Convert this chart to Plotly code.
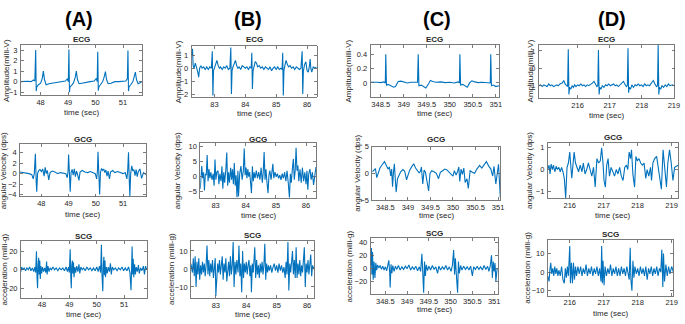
import plotly.graph_objects as go

W, H = 685, 324

# ---------------- data: (time [s], value) ----------------
A_ECG = [(47.28, 0.0), (47.40, 0.05), (47.52, 0.03), (47.65, 0.0), (47.74, 0.15), (47.79, 0.05), (47.82, 3.0),
         (47.84, -0.9), (47.86, -0.5), (47.92, -0.3), (48.00, -0.15), (48.06, 0.3), (48.10, 1.0), (48.14, 0.2),
         (48.20, -0.3), (48.30, -0.2), (48.45, -0.15), (48.60, -0.05), (48.75, 0.0), (48.90, 0.05), (48.97, 0.25),
         (49.01, 0.0), (49.03, 3.05), (49.05, -1.0), (49.07, -0.5), (49.13, -0.35), (49.20, -0.1), (49.26, 0.4),
         (49.30, 1.0), (49.34, 0.2), (49.40, -0.2), (49.50, -0.15), (49.65, -0.05), (49.80, 0.0), (49.95, 0.05),
         (50.03, 0.3), (50.06, 0.0), (50.08, 2.85), (50.10, -0.85), (50.12, -0.5), (50.18, -0.3), (50.26, 0.0),
         (50.32, 0.5), (50.36, 0.95), (50.40, 0.2), (50.46, -0.2), (50.56, -0.15), (50.70, 0.0), (50.85, 0.0),
         (51.00, 0.05), (51.10, 0.05), (51.16, 0.3), (51.18, 2.95), (51.20, -0.9), (51.22, -0.5), (51.28, -0.3),
         (51.36, 0.0), (51.41, 0.5), (51.45, 0.9), (51.49, 0.2), (51.55, -0.2), (51.62, -0.1), (51.69, 0.0)]

A_GCG = [(47.21, 0.3), (47.35, 0.2), (47.45, 0.1), (47.55, 0.0), (47.65, -0.2), (47.70, -1.0), (47.74, 0.0),
         (47.78, 3.8), (47.81, -1.5), (47.83, -3.5), (47.86, 0.0), (47.90, 0.6), (47.95, 0.8), (48.00, 0.4),
         (48.05, 0.9), (48.10, -0.5), (48.14, 1.2), (48.18, 0.0), (48.22, 0.6), (48.27, -1.2), (48.32, 0.2),
         (48.40, 0.5), (48.50, 0.3), (48.60, 0.0), (48.70, 0.2), (48.80, 0.1), (48.90, 0.0), (48.95, -0.8),
         (48.98, 0.5), (49.00, 3.7), (49.03, -1.0), (49.06, -3.5), (49.09, 0.2), (49.13, 0.8), (49.17, -0.3),
         (49.21, 0.9), (49.25, -0.6), (49.29, 0.5), (49.33, -0.2), (49.38, -1.3), (49.42, 0.3), (49.50, 0.6),
         (49.60, 0.3), (49.70, 0.2), (49.80, 0.4), (49.90, 0.1), (49.98, 0.0), (50.03, -1.0), (50.06, 0.5),
         (50.08, 4.2), (50.11, -1.0), (50.14, -4.0), (50.17, 0.2), (50.21, 1.0), (50.25, 0.6), (50.29, 0.9),
         (50.33, 0.2), (50.37, 0.7), (50.41, -0.5), (50.45, 0.5), (50.50, -1.0), (50.54, 0.3), (50.62, 0.6),
         (50.70, 0.2), (50.80, 0.4), (50.90, 0.2), (51.00, 0.0), (51.08, 0.2), (51.14, -1.0), (51.17, 0.5),
         (51.20, 4.1), (51.23, -1.5), (51.25, -4.3), (51.28, 0.0), (51.32, 1.5), (51.36, 0.5), (51.40, 0.8),
         (51.44, -0.4), (51.48, 0.8), (51.52, -0.6), (51.56, 0.4), (51.62, 0.9), (51.68, -0.9), (51.75, 0.2),
         (51.84, -0.2)]

A_SCG = [(47.23, -2), (47.26, 3), (47.30, 0), (47.35, 2), (47.40, -1), (47.45, 2), (47.50, 0), (47.55, 3),
         (47.60, -1), (47.65, 2), (47.70, -2), (47.74, 3), (47.77, -3), (47.80, 20), (47.82, -8), (47.84, -20),
         (47.86, 5), (47.88, 13), (47.90, -5), (47.92, 10), (47.94, -10), (47.96, 4), (47.99, -4), (48.02, 3),
         (48.06, -2), (48.10, 2), (48.14, -3), (48.17, 9), (48.19, -5), (48.22, 4), (48.26, -2), (48.30, 2),
         (48.35, 0), (48.40, 3), (48.46, 0), (48.52, 2), (48.58, -1), (48.64, 2), (48.70, 0), (48.76, 2),
         (48.82, -1), (48.88, 3), (48.93, -2), (48.97, 3), (49.00, -3), (49.03, 22), (49.05, -5), (49.07, -20),
         (49.09, 5), (49.11, 10), (49.13, -4), (49.15, 8), (49.17, -8), (49.20, 3), (49.23, -3), (49.27, 4),
         (49.31, -2), (49.35, 6), (49.38, -4), (49.42, 3), (49.47, 0), (49.52, 2), (49.58, -1), (49.64, 3),
         (49.70, 0), (49.76, 2), (49.82, -1), (49.88, 2), (49.94, -1), (50.00, 3), (50.05, -2), (50.10, 4),
         (50.14, -3), (50.17, 27), (50.19, -5), (50.22, -23), (50.24, 5), (50.26, 14), (50.28, -6), (50.30, 10),
         (50.32, -8), (50.35, 3), (50.38, -4), (50.42, 3), (50.46, -2), (50.50, 7), (50.53, -5), (50.57, 3),
         (50.62, 0), (50.68, 2), (50.74, -1), (50.80, 2), (50.86, 0), (50.92, 3), (50.98, -1), (51.04, 2),
         (51.10, -1), (51.16, 3), (51.21, -3), (51.25, -22), (51.27, 0), (51.29, 25), (51.31, -5), (51.33, 12),
         (51.35, -8), (51.38, 6), (51.41, -5), (51.44, 3), (51.48, -2), (51.52, 5), (51.55, -4), (51.60, 2),
         (51.65, -1), (51.70, 4), (51.74, -5), (51.78, 4), (51.83, 0)]

B_ECG = [(82.26, 1.0), (82.29, 1.5), (82.31, 0.2), (82.34, 0.0), (82.38, 0.4), (82.42, 0.1), (82.46, -0.3),
         (82.49, -0.7), (82.52, 0.0), (82.56, 0.2), (82.60, 0.0), (82.65, 0.1), (82.70, -0.1), (82.75, 0.1),
         (82.80, -0.1), (82.85, 0.1), (82.90, 0.0), (82.93, 1.3), (82.95, -2.1), (82.97, -0.2), (83.00, 0.0),
         (83.04, 0.3), (83.08, 0.6), (83.12, 0.2), (83.16, 0.0), (83.20, 0.1), (83.25, -0.1), (83.30, 0.1),
         (83.35, 0.0), (83.40, 0.2), (83.45, -0.1), (83.50, 0.0), (83.53, 1.6), (83.55, -2.0), (83.57, -0.2),
         (83.60, 0.1), (83.64, 0.4), (83.68, 0.6), (83.72, 0.2), (83.76, 0.0), (83.80, 0.1), (83.85, -0.1),
         (83.90, 0.2), (83.95, 0.1), (84.00, 0.0), (84.05, 0.1), (84.10, -0.1), (84.15, 0.1), (84.19, 0.0),
         (84.21, 1.2), (84.23, -1.6), (84.25, -0.2), (84.28, 0.1), (84.32, 0.5), (84.36, 0.4), (84.40, 0.1),
         (84.45, 0.2), (84.50, 0.0), (84.55, 0.1), (84.60, -0.1), (84.65, 0.1), (84.70, 0.0), (84.75, -0.1),
         (84.80, 0.1), (84.85, -0.2), (84.90, 0.0), (84.95, 0.1), (85.00, -0.1), (85.05, 0.1), (85.10, -0.1),
         (85.15, 0.0), (85.19, -0.1), (85.21, 1.2), (85.23, -2.1), (85.25, -0.2), (85.28, 0.2), (85.32, 0.6),
         (85.36, 0.3), (85.40, 0.1), (85.45, 0.2), (85.50, 0.0), (85.55, 0.1), (85.60, -0.1), (85.65, 0.1),
         (85.70, 0.0), (85.75, -0.1), (85.80, 0.0), (85.84, 1.3), (85.86, -2.0), (85.88, -0.2), (85.92, 0.3),
         (85.96, 0.5), (86.00, -0.2), (86.04, -0.3), (86.07, 0.1), (86.10, 0.7), (86.12, 0.0), (86.15, -0.3),
         (86.20, 0.1), (86.25, 0.0), (86.31, 0.1)]

B_GCG = [(82.49, -4.0), (82.51, 1.0), (82.54, 3.5), (82.57, -0.5), (82.60, 1.5), (82.63, -4.5), (82.66, 1.0),
         (82.69, 0.5), (82.72, 7.2), (82.75, -1.5), (82.78, 2.5), (82.81, -0.5), (82.84, 1.5), (82.88, -1.0),
         (82.92, 1.0), (82.95, -3.0), (82.98, 5.7), (83.01, -1.0), (83.04, 1.5), (83.08, 2.0), (83.11, -2.5),
         (83.14, 1.0), (83.18, -1.5), (83.21, 3.5), (83.24, -4.0), (83.27, 1.5), (83.30, -2.0), (83.34, 2.5),
         (83.37, 8.0), (83.40, -3.0), (83.43, 1.5), (83.46, -2.0), (83.50, 3.0), (83.53, -1.0), (83.56, 2.5),
         (83.59, -2.5), (83.62, 4.5), (83.65, -3.0), (83.68, 0.5), (83.71, -6.8), (83.74, 2.0), (83.76, -6.5),
         (83.80, 1.0), (83.84, 3.5), (83.88, -1.0), (83.92, 2.0), (83.95, 9.3), (83.98, 0.5), (84.01, 3.0),
         (84.04, -0.5), (84.07, 2.5), (84.10, 0.0), (84.13, 1.5), (84.16, -2.0), (84.19, -5.4), (84.22, 3.5),
         (84.25, -1.5), (84.28, 1.5), (84.31, -0.5), (84.35, 2.0), (84.39, -0.5), (84.43, 1.5), (84.47, -1.0),
         (84.51, 3.0), (84.55, -2.0), (84.58, 1.5), (84.61, 8.2), (84.64, -1.0), (84.67, 2.5), (84.71, -2.5),
         (84.74, -5.4), (84.77, 0.5), (84.80, 2.0), (84.84, -1.0), (84.87, 1.5), (84.90, 4.3), (84.93, -0.5),
         (84.97, 1.5), (85.01, 0.0), (85.05, 1.0), (85.09, -0.5), (85.13, 0.5), (85.17, -1.0), (85.21, 1.0),
         (85.25, -0.5), (85.29, 1.5), (85.33, -1.5), (85.37, 2.0), (85.41, -2.0), (85.45, -6.9), (85.48, 1.0),
         (85.51, -2.0), (85.55, 3.0), (85.58, 5.9), (85.61, -1.0), (85.64, 2.0), (85.67, 9.6), (85.70, 2.0),
         (85.73, 3.7), (85.76, -1.5), (85.80, 2.5), (85.84, -2.0), (85.88, 3.0), (85.92, -1.5), (85.96, 1.5),
         (86.00, -2.5), (86.03, 2.0), (86.06, -4.3), (86.09, 1.0), (86.13, 2.5), (86.17, -1.0), (86.21, 1.5),
         (86.25, -2.7), (86.29, 0.5), (86.33, 3.2)]

B_SCG = [(82.18, 3), (82.23, -2), (82.26, 6), (82.29, -4), (82.32, 7), (82.35, -10), (82.38, 4), (82.41, -3),
         (82.44, 6), (82.47, -6), (82.50, 2), (82.53, -3), (82.56, 4), (82.59, -2), (82.62, 3), (82.65, -4),
         (82.68, 2), (82.71, 13), (82.74, -3), (82.77, 5), (82.80, -4), (82.83, 3), (82.86, -2), (82.89, 5),
         (82.92, -5), (82.95, 2), (82.98, 6), (83.00, -15), (83.03, -4), (83.06, 3), (83.09, -2), (83.12, 5),
         (83.15, -3), (83.18, 2), (83.21, 7), (83.24, -6), (83.27, 3), (83.30, -2), (83.33, 6), (83.36, -7),
         (83.39, 2), (83.42, 4), (83.45, -4), (83.48, 7), (83.51, -3), (83.54, 2), (83.57, 15), (83.60, -10),
         (83.63, 4), (83.66, -3), (83.69, 5), (83.73, -2), (83.76, 13), (83.79, -4), (83.82, 3), (83.85, -13),
         (83.88, 10), (83.91, -5), (83.94, 3), (83.97, -2), (84.00, 4), (84.03, -3), (84.06, 2), (84.09, 5),
         (84.12, -4), (84.15, 2), (84.17, -13), (84.20, 3), (84.23, -2), (84.26, 5), (84.28, 12), (84.31, -5),
         (84.34, 5), (84.37, -3), (84.40, 2), (84.43, -5), (84.46, 3), (84.49, -2), (84.52, 4), (84.55, -3),
         (84.58, 2), (84.61, 14), (84.64, -6), (84.67, 3), (84.70, -2), (84.73, 2), (84.76, -1), (84.80, 2),
         (84.84, -2), (84.88, 1), (84.92, 3), (84.96, -1), (85.00, 2), (85.04, -2), (85.08, 3), (85.12, -1),
         (85.16, 2), (85.20, -2), (85.24, 1), (85.28, -5), (85.31, 4), (85.34, -3), (85.37, 15), (85.40, -12),
         (85.43, 3), (85.46, -2), (85.49, 4), (85.52, 10), (85.55, -3), (85.58, 5), (85.61, -5), (85.64, 12),
         (85.67, -5), (85.70, 3), (85.73, -3), (85.76, 5), (85.79, -4), (85.82, 2), (85.85, -2), (85.88, 4),
         (85.91, 12), (85.94, -10), (85.97, 3), (86.00, -2), (86.03, 5), (86.06, -3), (86.09, 4), (86.12, 8),
         (86.15, -4), (86.18, 2), (86.21, 0), (86.24, 1)]

C_ECG = [(348.28, 0.01), (348.35, 0.015), (348.42, 0.01), (348.50, 0.005), (348.57, 0.015), (348.60, 0.0),
         (348.61, 0.40), (348.625, -0.03), (348.66, -0.02), (348.72, -0.04), (348.78, -0.06), (348.82, -0.05),
         (348.88, 0.02), (348.94, 0.025), (349.00, 0.01), (349.08, 0.0), (349.16, 0.01), (349.24, 0.005),
         (349.30, 0.01), (349.315, 0.40), (349.33, -0.04), (349.38, -0.03), (349.44, -0.06), (349.48, -0.07),
         (349.54, -0.01), (349.58, 0.035), (349.63, 0.02), (349.70, 0.01), (349.80, 0.015), (349.90, 0.005),
         (350.00, 0.01), (350.10, 0.0), (350.18, 0.015), (350.21, 0.0), (350.22, 0.40), (350.235, -0.03),
         (350.28, -0.02), (350.34, -0.05), (350.38, -0.06), (350.43, 0.0), (350.48, 0.03), (350.54, 0.015),
         (350.62, 0.005), (350.70, 0.01), (350.78, 0.005), (350.86, 0.01), (350.88, 0.0), (350.89, 0.40),
         (350.905, -0.04), (350.95, -0.03), (351.00, -0.05), (351.07, -0.04)]

C_GCG = [(348.21, 0.3), (348.25, 0.6), (348.28, 0.9), (348.31, -0.8), (348.34, 0.2), (348.38, 1.0),
         (348.43, 1.6), (348.48, 2.2), (348.52, 1.5), (348.56, 0.8), (348.59, 1.2), (348.62, -0.5),
         (348.64, 0.8), (348.66, -2.5), (348.68, 0.2), (348.70, 1.8), (348.72, -1.0), (348.74, -3.5),
         (348.77, -1.0), (348.80, -0.5), (348.84, 0.3), (348.89, 0.7), (348.93, 0.4), (348.97, -1.2),
         (349.00, -0.2), (349.04, 0.6), (349.09, 1.3), (349.13, 1.8), (349.17, 1.0), (349.21, 0.5),
         (349.25, 0.1), (349.28, 0.4), (349.30, 1.2), (349.33, -2.0), (349.36, 0.6), (349.39, 0.2),
         (349.42, -1.5), (349.46, -3.3), (349.49, 0.0), (349.53, 0.5), (349.58, 0.3), (349.63, 0.0),
         (349.68, -1.0), (349.72, 0.2), (349.77, 0.5), (349.82, 0.8), (349.86, 0.7), (349.91, 0.3),
         (349.96, 0.0), (350.00, -0.5), (350.03, 0.5), (350.07, -0.3), (350.10, 0.3), (350.13, 1.2),
         (350.15, -1.5), (350.18, 0.8), (350.21, -0.2), (350.24, 1.0), (350.27, -1.7), (350.31, -1.0),
         (350.34, -2.8), (350.38, 0.5), (350.43, 0.2), (350.48, 0.0), (350.53, 0.8), (350.59, 1.5),
         (350.64, 1.0), (350.69, 1.6), (350.74, 2.2), (350.79, 1.4), (350.84, 0.8), (350.88, -0.5),
         (350.91, 1.3), (350.95, -2.0), (350.98, 0.5), (351.01, 1.7), (351.05, -4.5)]

C_SCG = [(348.16, 5), (348.18, 31), (348.19, -10), (348.205, 25), (348.22, -18), (348.24, 10), (348.26, -15),
         (348.28, 8), (348.30, -3), (348.32, 5), (348.35, 0), (348.38, 4), (348.41, -2), (348.44, 3),
         (348.47, -3), (348.50, 2), (348.53, -4), (348.56, 5), (348.58, 12), (348.60, -8), (348.61, -30),
         (348.63, 6), (348.65, -8), (348.67, 4), (348.70, -5), (348.73, 3), (348.76, -2), (348.80, 4),
         (348.84, -3), (348.88, 2), (348.92, -2), (348.96, 3), (349.00, -1), (349.04, 5), (349.08, -3),
         (349.12, 2), (349.16, -2), (349.20, 3), (349.24, -4), (349.28, 2), (349.31, -5), (349.34, 22),
         (349.36, -10), (349.38, -38), (349.40, 10), (349.42, -12), (349.44, 5), (349.47, -4), (349.50, 3),
         (349.54, -3), (349.58, 4), (349.62, -2), (349.66, 2), (349.70, -8), (349.73, 3), (349.77, -3),
         (349.81, 2), (349.85, -2), (349.89, 4), (349.93, -3), (349.97, 2), (350.01, -5), (350.04, 4),
         (350.07, 28), (350.09, -10), (350.11, 15), (350.13, -8), (350.16, -38), (350.18, 10), (350.20, -8),
         (350.23, 4), (350.26, -3), (350.30, 3), (350.34, -2), (350.38, 2), (350.42, -3), (350.46, 3),
         (350.50, -12), (350.53, 2), (350.57, -2), (350.61, 3), (350.65, -2), (350.69, 2), (350.73, -3),
         (350.77, 4), (350.81, -2), (350.85, 3), (350.88, -5), (350.91, 3), (350.94, 20), (350.96, -15),
         (350.98, 10), (351.00, -5), (351.02, 8), (351.04, -20), (351.07, 0)]

D_ECG = [(214.79, -1.0), (214.85, -0.95), (214.90, -1.05), (214.95, -0.95), (215.00, -1.0), (215.05, -1.05),
         (215.10, -0.9), (215.15, -1.0), (215.20, -0.95), (215.25, -1.05), (215.30, -1.0), (215.35, -0.95),
         (215.40, -1.0), (215.45, -0.9), (215.52, -0.85), (215.57, -0.7), (215.61, -0.9), (215.65, -1.0),
         (215.69, -1.05), (215.71, 1.1), (215.73, -1.5), (215.75, -1.1), (215.79, -1.2), (215.83, -1.0),
         (215.87, -1.1), (215.91, -0.95), (215.95, -1.05), (216.00, -0.95), (216.05, -1.0), (216.10, -0.9),
         (216.15, -1.0), (216.20, -0.95), (216.25, -1.05), (216.30, -0.95), (216.35, -1.0), (216.40, -0.95),
         (216.46, -0.85), (216.51, -0.75), (216.55, -0.9), (216.60, -1.05), (216.63, -1.0), (216.65, 1.05),
         (216.67, -1.5), (216.69, -1.1), (216.73, -1.2), (216.77, -1.0), (216.82, -1.1), (216.87, -0.95),
         (216.92, -1.0), (216.97, -0.9), (217.02, -1.0), (217.07, -0.95), (217.12, -0.9), (217.17, -1.0),
         (217.22, -0.95), (217.27, -1.05), (217.32, -0.95), (217.38, -0.85), (217.43, -0.75), (217.47, -0.9),
         (217.52, -1.05), (217.55, -1.0), (217.57, 1.15), (217.59, -1.4), (217.61, -1.1), (217.65, -1.2),
         (217.69, -0.95), (217.74, -1.1), (217.79, -0.95), (217.84, -1.0), (217.89, -0.9), (217.94, -1.0),
         (217.99, -0.95), (218.04, -1.05), (218.09, -0.9), (218.14, -1.0), (218.19, -0.95), (218.24, -1.0),
         (218.30, -0.85), (218.36, -0.7), (218.41, -0.9), (218.46, -1.05), (218.49, -1.0), (218.51, 1.35),
         (218.53, -1.5), (218.55, -1.1), (218.59, -1.2), (218.63, -1.0), (218.68, -1.1), (218.73, -0.95),
         (218.78, -1.05), (218.83, -0.9), (218.88, -1.0), (218.95, -0.95), (219.0, -1.0)]

D_GCG = [(215.35, 0.0), (215.39, 0.2), (215.42, -0.2), (215.45, 0.25), (215.49, 0.0), (215.52, 0.2),
         (215.56, -0.1), (215.60, 0.15), (215.64, 0.0), (215.68, 0.1), (215.72, -0.1), (215.76, 0.1),
         (215.80, -0.1), (215.84, -0.4), (215.88, -1.3), (215.92, 0.1), (215.96, 0.3), (216.00, 0.8),
         (216.03, 0.2), (216.06, -0.4), (216.10, 0.3), (216.13, 0.8), (216.17, 0.3), (216.21, 0.1),
         (216.26, -0.1), (216.31, 0.2), (216.36, -0.1), (216.40, 0.3), (216.45, -0.2), (216.50, 0.0),
         (216.55, 0.3), (216.60, 0.0), (216.65, -0.3), (216.70, 0.1), (216.75, -0.8), (216.80, 0.5),
         (216.85, 0.3), (216.90, 0.4), (216.94, 1.0), (216.98, 0.3), (217.01, -0.5), (217.05, -0.8),
         (217.09, 0.2), (217.13, 0.5), (217.17, -0.3), (217.22, 0.1), (217.27, -0.1), (217.32, -0.3),
         (217.37, 0.0), (217.42, -0.2), (217.47, 0.1), (217.52, -0.3), (217.57, -0.5), (217.62, 0.1),
         (217.67, 0.2), (217.71, 0.0), (217.75, 0.8), (217.79, 0.5), (217.82, 0.9), (217.86, -0.2),
         (217.91, -0.8), (217.95, 0.6), (217.99, 0.4), (218.04, 0.5), (218.09, 0.3), (218.14, 0.2),
         (218.19, 0.3), (218.24, -0.4), (218.28, 0.0), (218.33, -0.3), (218.38, 0.1), (218.41, -0.5),
         (218.45, 0.3), (218.50, 0.5), (218.56, 0.6), (218.60, 0.2), (218.64, -0.2), (218.70, -0.9),
         (218.75, 0.9), (218.80, 0.2), (218.85, -0.8), (218.89, 0.3), (218.94, 0.9), (218.99, 0.3),
         (219.04, -0.5), (219.09, 0.1), (219.19, 0.2)]

D_SCG = [(215.35, -2), (215.39, -5), (215.42, 2), (215.44, 5), (215.47, -1), (215.50, 2), (215.53, -2),
         (215.56, 3), (215.59, -1), (215.62, 2), (215.65, -2), (215.68, 1), (215.72, -2), (215.76, 3),
         (215.80, -4), (215.84, -6), (215.87, 2), (215.90, -3), (215.93, 3), (215.96, -2), (216.00, 14),
         (216.02, -6), (216.05, 5), (216.08, -6), (216.11, 5), (216.14, -4), (216.17, 3), (216.20, -2),
         (216.24, 3), (216.28, -1), (216.32, 3), (216.36, -2), (216.40, 2), (216.44, -1), (216.48, 4),
         (216.52, -2), (216.56, 2), (216.60, -1), (216.64, 3), (216.68, -2), (216.72, 2), (216.76, -1),
         (216.80, 3), (216.84, -2), (216.88, 2), (216.92, -5), (216.94, 14), (216.96, -6), (216.98, 6),
         (217.01, -7), (217.04, 3), (217.08, -2), (217.12, 2), (217.16, -1), (217.20, 4), (217.24, -2),
         (217.28, 2), (217.32, -1), (217.36, 3), (217.40, -2), (217.44, 2), (217.48, -2), (217.52, 3),
         (217.56, -1), (217.60, 2), (217.64, -2), (217.68, 3), (217.72, -2), (217.75, -4), (217.78, 13),
         (217.80, -4), (217.83, -10), (217.86, 6), (217.89, -3), (217.92, 3), (217.96, -1), (218.00, 2),
         (218.04, -2), (218.08, 3), (218.12, -1), (218.16, 2), (218.20, -2), (218.24, 3), (218.28, -4),
         (218.32, 2), (218.36, -1), (218.40, 3), (218.44, -2), (218.48, 2), (218.52, -1), (218.56, 3),
         (218.60, -2), (218.64, 2), (218.68, 0), (218.71, 12), (218.74, -8), (218.76, 10), (218.79, -5),
         (218.83, 4), (218.87, -2), (218.91, 3), (218.95, -1), (219.00, 3), (219.05, 0)]

# ---------------- tick values ----------------
A_XTICKS = [48, 49, 50, 51]
B_XTICKS = [83, 84, 85, 86]
C_XTICKS = [348.5, 349, 349.5, 350, 350.5, 351]
D_XTICKS = [216, 217, 218, 219]

A_ECG_YT = [-1, 0, 1, 2, 3]
A_GCG_YT = [-4, -2, 0, 2, 4]
A_SCG_YT = [-20, 0, 20]
B_ECG_YT = [-2, -1, 0, 1]
B_GCG_YT = [-5, 0, 5, 10]
B_SCG_YT = [-10, 0, 10]
C_ECG_YT = [0, 0.2, 0.4]
C_GCG_YT = [-5, 0, 5]
C_SCG_YT = [-20, 0, 20, 40]
D_ECG_YT = [-1, 0, 1]
D_GCG_YT = [-1, 0, 1]
D_SCG_YT = [-10, 0, 10]

COLUMN_LABELS = ["(A)", "(B)", "(C)", "(D)"]
ROW_TITLES = ["ECG", "GCG", "SCG"]
Y_TITLES = ["Amplitude(milli-V)", "angular Velocity (dps)", "acceleration (milli-g)"]
X_TITLE = "time (sec)"

# ---------------- layout (pixel boxes) ----------------
# data, row, x-box px, y-box px, x range, y range, xticks, yticks, ytitle x px, title y px, xtitle y px
PANELS = [
    (A_ECG, 0, (21, 143), (42, 94), (47.28, 51.69), (-1.31, 3.5), A_XTICKS, A_ECG_YT, 6, 37, 112),
    (A_GCG, 1, (20, 147), (144, 198), (47.21, 51.84), (-4.4, 5.7), A_XTICKS, A_GCG_YT, 3, 139, 217),
    (A_SCG, 2, (21, 148), (244, 302), (47.23, 51.83), (-30, 30.8), A_XTICKS, A_SCG_YT, 4, 239, 319),
    (B_ECG, 0, (193, 319), (43, 96), (82.26, 86.31), (-2.25, 1.73), B_XTICKS, B_ECG_YT, 180, 36, 113),
    (B_GCG, 1, (201.7, 318.3), (143.3, 199.3), (82.49, 86.33), (-6.95, 11.05), B_XTICKS, B_GCG_YT, 179, 139, 218),
    (B_SCG, 2, (192.3, 316.7), (243.3, 302.3), (82.18, 86.24), (-16.1, 15.8), B_XTICKS, B_SCG_YT, 172, 238, 319),
    (C_ECG, 0, (373.3, 502.7), (42, 96), (348.28, 351.07), (-0.2, 0.53), C_XTICKS, C_ECG_YT, 351, 36, 113),
    (C_GCG, 1, (375, 504), (146.7, 201.7), (348.21, 351.05), (-5, 5), C_XTICKS, C_GCG_YT, 360, 139, 218),
    (C_SCG, 2, (373.3, 501.7), (241, 298), (348.16, 351.09), (-39.5, 46), C_XTICKS, C_SCG_YT, 352, 236, 314),
    (D_ECG, 0, (542.7, 679.5), (41.7, 96.7), (214.79, 219.02), (-1.71, 1.37), D_XTICKS, D_ECG_YT, 534, 36, 115),
    (D_GCG, 1, (551.7, 683), (143.3, 200), (215.35, 219.19), (-1.32, 1.2), D_XTICKS, D_GCG_YT, 534, 137, 218),
    (D_SCG, 2, (551.7, 678.3), (242.3, 300), (215.35, 219.05), (-12.6, 17.4), D_XTICKS, D_SCG_YT, 532, 237, 318),
]
COLUMN_LABEL_X = [80, 250, 440, 617]

FONT = "Liberation Sans, Arial, Helvetica, sans-serif"
TXT = "#262626"
AX = "#5a5a5a"
LINE = "#0072BD"

fig = go.Figure()
annotations = []
layout = {}


def px2fx(px):
    return px / W


def py2fy(py):
    return 1 - py / H


for i, (data, row, xb, yb, xr, yr, xt, yt, ytx, tty, xty) in enumerate(PANELS, start=1):
    sfx = "" if i == 1 else str(i)
    t = [p[0] for p in data]
    v = [p[1] for p in data]
    fig.add_trace(go.Scatter(x=t, y=v, mode="lines", xaxis="x" + sfx, yaxis="y" + sfx,
                             line=dict(color=LINE, width=1.1), hoverinfo="skip", showlegend=False))
    common = dict(showline=True, mirror="ticks", linecolor=AX, linewidth=0.8, ticks="inside",
                  ticklen=3, tickwidth=0.8, tickcolor=AX, showgrid=False, zeroline=False,
                  tickfont=dict(family=FONT, size=7.5, color=TXT), fixedrange=True)
    layout["xaxis" + sfx] = dict(domain=[px2fx(xb[0]), px2fx(xb[1])], range=list(xr),
                                 anchor="y" + sfx, tickvals=xt, **common)
    layout["yaxis" + sfx] = dict(domain=[py2fy(yb[1]), py2fy(yb[0])], range=list(yr),
                                 anchor="x" + sfx, tickvals=yt, ticklabelstandoff=1, **common)
    cx = (xb[0] + xb[1]) / 2
    cy = (yb[0] + yb[1]) / 2
    annotations.append(dict(text="<b>%s</b>" % ROW_TITLES[row], x=px2fx(cx), y=py2fy(tty),
                            xref="paper", yref="paper", showarrow=False, xanchor="center", yanchor="middle",
                            font=dict(family=FONT, size=8, color=TXT)))
    annotations.append(dict(text=Y_TITLES[row], x=px2fx(ytx), y=py2fy(cy), textangle=-90,
                            xref="paper", yref="paper", showarrow=False, xanchor="center", yanchor="middle",
                            font=dict(family=FONT, size=8, color=TXT)))
    annotations.append(dict(text=X_TITLE, x=px2fx(cx), y=py2fy(xty),
                            xref="paper", yref="paper", showarrow=False, xanchor="center", yanchor="middle",
                            font=dict(family=FONT, size=8, color=TXT)))

for lab, lx in zip(COLUMN_LABELS, COLUMN_LABEL_X):
    annotations.append(dict(text="<b>%s</b>" % lab, x=px2fx(lx), y=py2fy(15), xref="paper", yref="paper",
                            showarrow=False, xanchor="center", yanchor="middle",
                            font=dict(family=FONT, size=20, color="#000000")))

fig.update_layout(width=W, height=H, autosize=False, margin=dict(l=0, r=0, t=0, b=0, pad=0),
                  paper_bgcolor="white", plot_bgcolor="white", annotations=annotations, **layout)

fig.write_html("out.html", config={"displayModeBar": False, "staticPlot": True},
               post_script="document.body.style.margin='0';")
